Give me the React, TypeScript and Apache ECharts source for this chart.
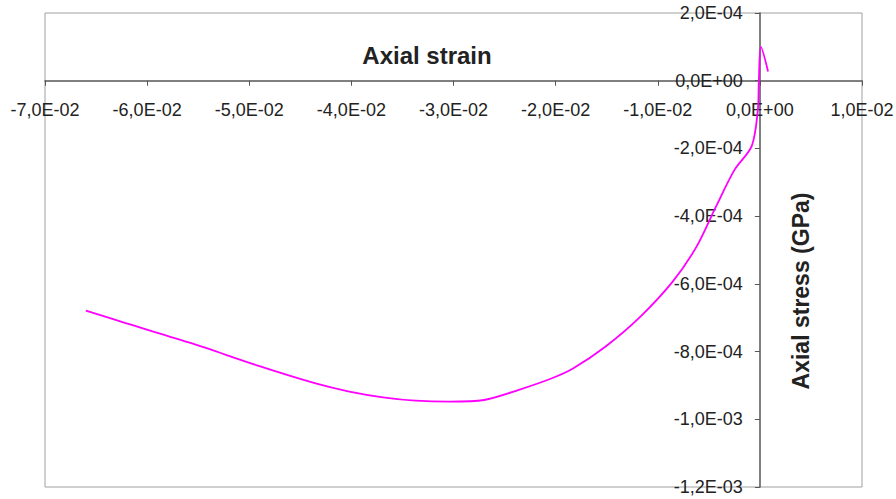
import React, { useEffect, useRef } from "react";
import * as echarts from "echarts";

const strain = [0.0008, 0.0001, -0.0001, -0.0002, -0.0008, -0.0025, -0.0043, -0.0062, -0.0085, -0.0118, -0.0151, -0.0183, -0.0203, -0.0236, -0.027, -0.0304, -0.0337, -0.0369, -0.0402, -0.0435, -0.049, -0.0556, -0.0621, -0.066];
const stress = [0.27e-4, 1.0e-4, 0, -0.87e-4, -1.93e-4, -2.64e-4, -3.72e-4, -4.9e-4, -5.92e-4, -7.0e-4, -7.85e-4, -8.5e-4, -8.78e-4, -9.13e-4, -9.43e-4, -9.48e-4, -9.45e-4, -9.35e-4, -9.18e-4, -8.94e-4, -8.43e-4, -7.76e-4, -7.16e-4, -6.79e-4];

const xMin = -0.07;
const xMax = 0.01;
const xStep = 0.01;
const yMin = -0.0012;
const yMax = 0.0002;
const yStep = 0.0002;

const xTitle = "Axial strain";
const yTitle = "Axial stress (GPa)";

const FONT = "'Liberation Sans', Arial, sans-serif";
const W = 896;
const H = 499;
const G = { left: 45, right: 34, top: 13, bottom: 12 };

function fmt(v: number): string {
  if (Math.abs(v) < 1e-12) return "0,0E+00";
  const s = v.toExponential(1);
  const [m, e] = s.split("e");
  const ev = parseInt(e, 10);
  const sign = ev < 0 ? "-" : "+";
  const ea = Math.abs(ev);
  return m.replace(".", ",") + "E" + sign + (ea < 10 ? "0" + ea : String(ea));
}

export default function App() {
  const ref = useRef<HTMLDivElement>(null);
  useEffect(() => {
    if (!ref.current) return;
    const chart = echarts.init(ref.current, null, { renderer: "svg" });
    const data = strain.map((x, i) => [x, stress[i]]);
    const gw = W - G.left - G.right;
    const gh = H - G.top - G.bottom;
    const xOff = -(gh * (yMax / (yMax - yMin)));
    const yOff = -(gw * (xMax / (xMax - xMin)));
    const labelStyle = {
      formatter: (v: number) => fmt(v),
      fontSize: 18,
      fontFamily: FONT,
      color: "#222",
      showMinLabel: true,
      showMaxLabel: true,
      inside: true,
    };
    chart.setOption({
      animation: false,
      backgroundColor: "#ffffff",
      grid: {
        ...G,
        containLabel: false,
        outerBoundsMode: "none",
        show: true,
        borderColor: "#a0a0a0",
        borderWidth: 1,
        backgroundColor: "#ffffff",
      },
      xAxis: {
        type: "value",
        position: "top",
        offset: xOff,
        min: xMin,
        max: xMax,
        interval: xStep,
        axisLine: { show: true, onZero: false, lineStyle: { color: "#555", width: 1.5 } },
        axisTick: { show: true, inside: true, length: 5, lineStyle: { color: "#555" } },
        splitLine: { show: false },
        axisLabel: { ...labelStyle, margin: 20 },
      },
      yAxis: {
        type: "value",
        position: "right",
        offset: yOff,
        min: yMin,
        max: yMax,
        interval: yStep,
        axisLine: { show: true, onZero: false, lineStyle: { color: "#555", width: 1.5 } },
        axisTick: { show: true, inside: true, length: 5, lineStyle: { color: "#555" } },
        splitLine: { show: false },
        axisLabel: { ...labelStyle, margin: 17 },
      },
      graphic: [
        {
          type: "text",
          x: 427,
          y: 55,
          style: {
            text: xTitle,
            font: `bold 24px ${FONT}`,
            fill: "#222",
            textAlign: "center",
            textVerticalAlign: "middle",
          },
        },
        {
          type: "text",
          x: 801,
          y: 291,
          rotation: Math.PI / 2,
          style: {
            text: yTitle,
            font: `bold 23px ${FONT}`,
            fill: "#222",
            textAlign: "center",
            textVerticalAlign: "middle",
          },
        },
      ],
      series: [
        {
          type: "line",
          data,
          showSymbol: false,
          smooth: 0.3,
          lineStyle: { color: "#ff00ff", width: 1.8 },
        },
      ],
    });
    return () => chart.dispose();
  }, []);
  return (
    <div
      ref={ref}
      style={{ position: "fixed", left: 0, top: 0, width: W, height: H }}
    />
  );
}
